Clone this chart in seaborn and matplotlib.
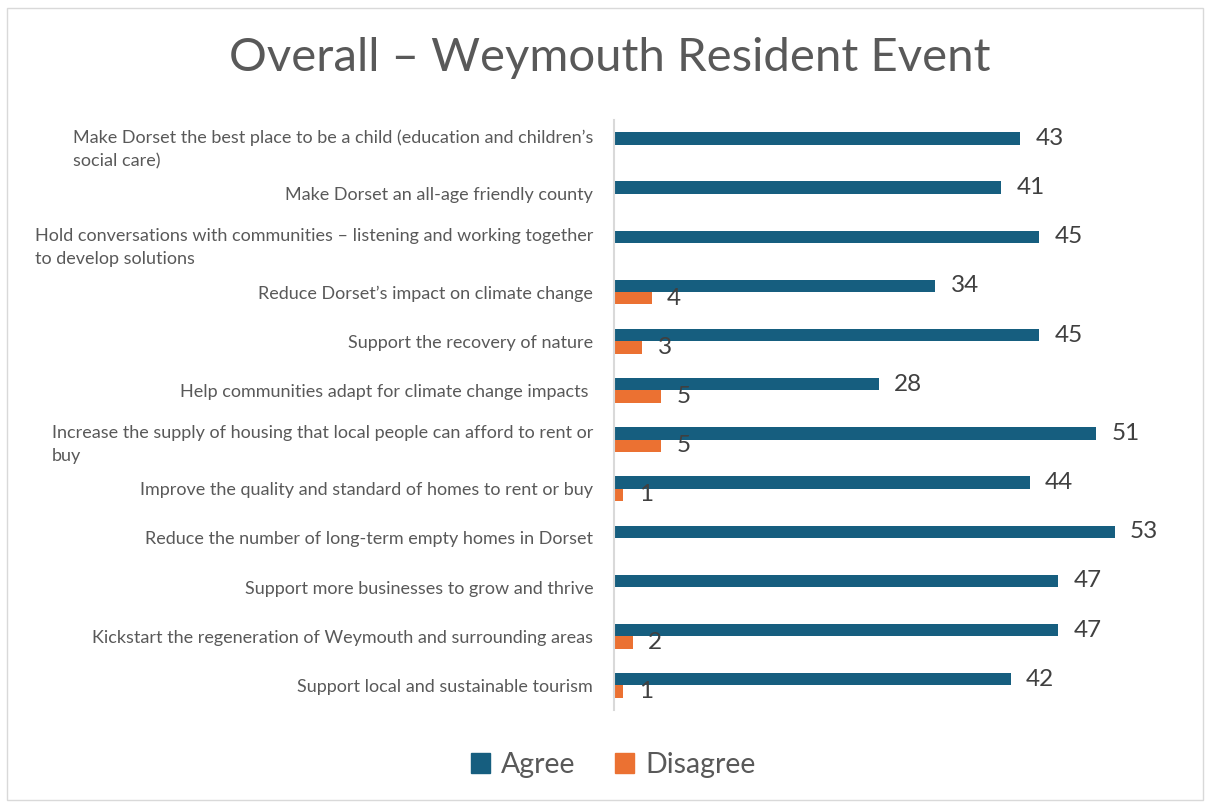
import numpy as np
import pandas as pd
import matplotlib
matplotlib.use("Agg")
import matplotlib.pyplot as plt
from matplotlib.patches import Rectangle
import seaborn as sns

categories = [
    "Make Dorset the best place to be a child (education and children’s\nsocial care)",
    "Make Dorset an all-age friendly county",
    "Hold conversations with communities – listening and working together\nto develop solutions",
    "Reduce Dorset’s impact on climate change",
    "Support the recovery of nature",
    "Help communities adapt for climate change impacts ",
    "Increase the supply of housing that local people can afford to rent or\nbuy",
    "Improve the quality and standard of homes to rent or buy",
    "Reduce the number of long-term empty homes in Dorset",
    "Support more businesses to grow and thrive",
    "Kickstart the regeneration of Weymouth and surrounding areas",
    "Support local and sustainable tourism",
]
agree = [43, 41, 45, 34, 45, 28, 51, 44, 53, 47, 47, 42]
disagree = [0, 0, 0, 4, 3, 5, 5, 1, 0, 0, 2, 1]
series = ["Agree", "Disagree"]
colors = ["#165E7F", "#EB7132"]
title = "Overall – Weymouth Resident Event"

df = pd.DataFrame({
    "category": categories * 2,
    "value": agree + disagree,
    "series": [series[0]] * len(categories) + [series[1]] * len(categories),
})

sns.set_theme(style="white")
plt.rcParams["font.family"] = ["Lato", "DejaVu Sans"]

fig = plt.figure(figsize=(12.05, 8.02), dpi=100)
ax = fig.add_axes([614 / 1205, 1 - 710 / 802, (1181 - 614) / 1205, 590 / 802])

sns.barplot(data=df, y="category", x="value", hue="series", order=categories,
            hue_order=series, palette=colors, orient="h", width=0.5,
            ax=ax, legend=False, saturation=1, edgecolor="none")

for cont in ax.containers:
    labels = [f"{v:g}" if v > 0 else "" for v in cont.datavalues]
    ax.bar_label(cont, labels=labels, padding=11, fontsize=17.5, color="#404040")

ax.set_xlim(0, 60)
ax.set_xlabel("")
ax.set_ylabel("")
ax.set_xticks([])
for s in ["top", "right", "bottom"]:
    ax.spines[s].set_visible(False)
ax.spines["left"].set_color("#D9D9D9")
ax.spines["left"].set_linewidth(1.5)
ax.tick_params(axis="y", length=0, pad=15, labelsize=13, labelcolor="#595959")
for lbl in ax.get_yticklabels():
    lbl.set_multialignment("left")
    lbl.set_linespacing(1.5)

fig.text(0.506, 1 - 58 / 802, title, ha="center", va="center", fontsize=34, color="#595959")

handles = [Rectangle((0, 0), 1, 1, color=c) for c in colors]
fig.legend(handles, series, loc="center", bbox_to_anchor=(0.509, 1 - 765 / 802), ncol=2,
           frameon=False, fontsize=20.5, handlelength=0.65, handleheight=0.65,
           handletextpad=0.4, columnspacing=1.4, labelcolor="#595959")

fig.patches.append(Rectangle((7 / 1205, 2 / 802), 1196 / 1205, 792 / 802,
                             transform=fig.transFigure, fill=False,
                             edgecolor="#D9D9D9", linewidth=1))

fig.savefig("out.png", dpi=100)
